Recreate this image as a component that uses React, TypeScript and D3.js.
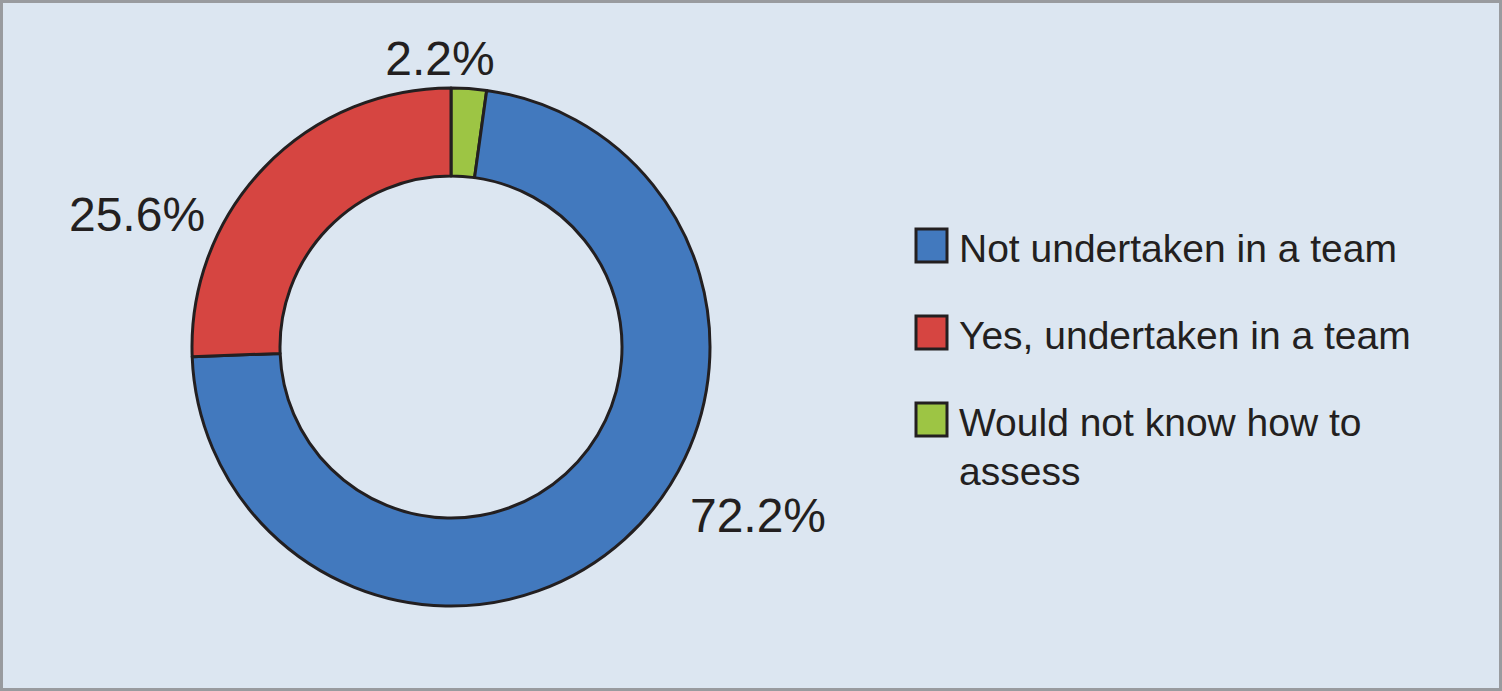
import React from "react";
import * as d3 from "d3";

const categories = ["Would not know how to assess", "Not undertaken in a team", "Yes, undertaken in a team"];
const values = [2.2, 72.2, 25.6];
const colors = ["#9dc544", "#4279be", "#d64541"];
const labels = ["2.2%", "72.2%", "25.6%"];
const legendOrder = [1, 2, 0];
const legendLines = [["Not undertaken in a team"], ["Yes, undertaken in a team"], ["Would not know how to", "assess"]];

const W = 1502;
const H = 691;

export default function App() {
  const cx = 451;
  const cy = 347;
  const outerR = 259;
  const innerR = 171;
  const pie = d3.pie<number>().sort(null).value((d) => d);
  const arcs = pie(values);
  const arc = d3.arc<d3.PieArcDatum<number>>().innerRadius(innerR).outerRadius(outerR);
  // label anchor offsets (pixel layout, relative to centre)
  const labelPos: [number, number][] = [
    [-11, -272],
    [307, 185],
    [-314, -116],
  ];
  const font = "'Liberation Sans', Arial, Helvetica, sans-serif";
  return (
    <svg width={W} height={H} style={{ position: "absolute", left: 0, top: 0 }}>
      <rect x={1.5} y={1.5} width={W - 3} height={H - 3} fill="#dce6f1" stroke="#999b9f" strokeWidth={3} />
      <g transform={`translate(${cx},${cy})`}>
        {arcs.map((a, i) => (
          <path key={i} d={arc(a) || ""} fill={colors[i]} stroke="#231f20" strokeWidth={3} strokeLinejoin="round" />
        ))}
        {arcs.map((a, i) => (
          <text
            key={"l" + i}
            x={labelPos[i][0]}
            y={labelPos[i][1]}
            textAnchor="middle"
            fontFamily={font}
            fontSize={48}
            fill="#231f20"
          >
            {labels[i]}
          </text>
        ))}
      </g>
      <g fontFamily={font} fontSize={39} fill="#231f20">
        {legendOrder.map((idx, r) => {
          const y = 229 + r * 87;
          return (
            <g key={r}>
              <rect x={916} y={y} width={31} height={33} fill={colors[idx]} stroke="#231f20" strokeWidth={3} />
              {legendLines[r].map((ln, k) => (
                <text key={k} x={959} y={y + 33 + k * 49} fill="#231f20">
                  {ln}
                </text>
              ))}
            </g>
          );
        })}
      </g>
    </svg>
  );
}
